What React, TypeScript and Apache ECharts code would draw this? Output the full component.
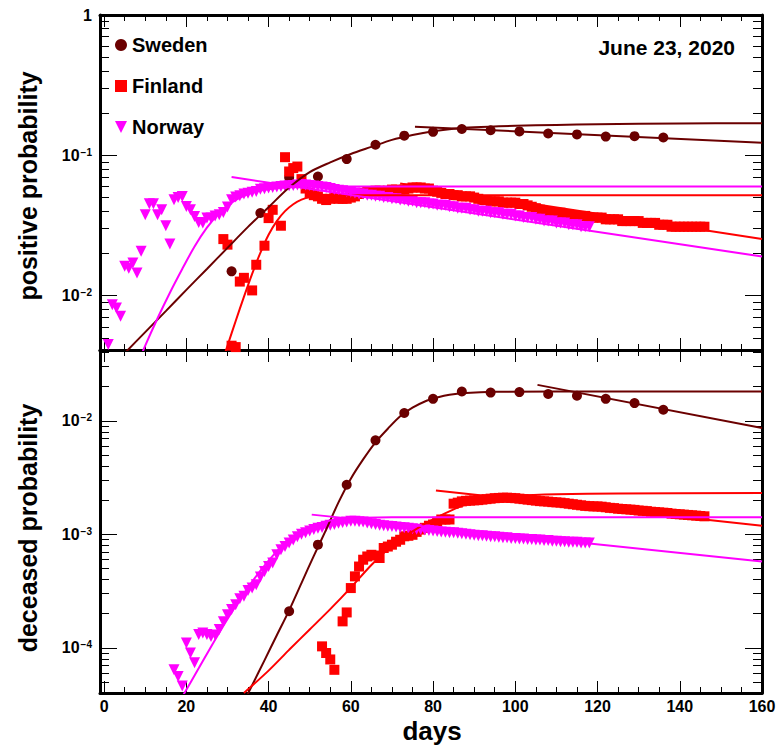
import { useEffect, useRef } from 'react';
import * as echarts from 'echarts';

const FONT = '"Liberation Sans", Arial, Helvetica, sans-serif';
const SWEDEN = '#6b0000';
const FINLAND = '#ff0000';
const NORWAY = '#ff00ff';

// axis ticks
const xMajorTicks = [0, 20, 40, 60, 80, 100, 120, 140, 160];
const xMinorTicks = [5, 10, 15, 25, 30, 35, 45, 50, 55, 65, 70, 75, 85, 90, 95, 105, 110, 115, 125, 130, 135, 145, 150, 155];
const posMajorTicks = [1, 0.1, 0.01];
const posMinorTicks = [0.005, 0.006, 0.007, 0.008, 0.009, 0.02, 0.03, 0.04, 0.05, 0.06, 0.07, 0.08, 0.09, 0.2, 0.3, 0.4, 0.5, 0.6, 0.7, 0.8, 0.9];
const decMajorTicks = [0.01, 0.001, 0.0001];
const decMinorTicks = [5e-5, 6e-5, 7e-5, 8e-5, 9e-5, 2e-4, 3e-4, 4e-4, 5e-4, 6e-4, 7e-4, 8e-4, 9e-4, 2e-3, 3e-3, 4e-3, 5e-3, 6e-3, 7e-3, 8e-3, 9e-3, 0.02, 0.03, 0.04];

// positive probability, [day, value]
const swedenPositive: [number, number][] = [
  [31, 0.0149], [38, 0.0388], [45, 0.0695], [52, 0.0707], [59, 0.094], [66, 0.119], [73, 0.138], [80, 0.147],
  [87, 0.154], [94, 0.151], [101, 0.148], [108, 0.143], [115, 0.141], [122, 0.136], [129, 0.137], [136, 0.134],
];
const finlandPositive: [number, number][] = [
  [29, 0.0253], [30, 0.0231], [31, 0.0044], [32, 0.0043], [33, 0.0126], [34, 0.0134], [36, 0.0109], [37, 0.0166],
  [39, 0.0227], [40, 0.0357], [41, 0.0409], [43, 0.0315], [44, 0.097], [45, 0.0767], [46, 0.0811], [47, 0.0832],
  [48, 0.0677], [49, 0.058], [50, 0.054], [51, 0.052], [52, 0.051], [53, 0.049], [54, 0.048], [55, 0.049],
  [56, 0.05], [57, 0.049], [58, 0.049], [59, 0.049], [60, 0.05], [61, 0.051], [62, 0.053], [63, 0.054],
  [64, 0.055], [65, 0.055], [66, 0.056], [67, 0.056], [68, 0.055], [69, 0.056], [70, 0.057], [71, 0.057],
  [72, 0.056], [73, 0.057], [74, 0.058], [75, 0.059], [76, 0.059], [77, 0.059], [78, 0.058], [79, 0.058],
  [80, 0.056], [81, 0.055], [82, 0.054], [83, 0.053], [84, 0.053], [85, 0.052], [86, 0.052], [87, 0.051],
  [88, 0.051], [89, 0.051], [90, 0.05], [91, 0.049], [92, 0.048], [93, 0.048], [94, 0.047], [95, 0.047],
  [96, 0.047], [97, 0.046], [98, 0.046], [99, 0.046], [100, 0.046], [101, 0.045], [102, 0.045], [103, 0.044],
  [104, 0.043], [105, 0.042], [106, 0.041], [107, 0.04], [108, 0.04], [109, 0.039], [110, 0.039], [111, 0.039],
  [112, 0.038], [113, 0.038], [114, 0.037], [115, 0.037], [116, 0.037], [117, 0.037], [118, 0.036], [119, 0.036],
  [120, 0.036], [121, 0.036], [122, 0.035], [123, 0.035], [124, 0.035], [125, 0.035], [126, 0.034], [127, 0.034],
  [128, 0.034], [129, 0.034], [130, 0.034], [131, 0.033], [132, 0.033], [133, 0.033], [134, 0.033], [135, 0.032],
  [136, 0.032], [137, 0.032], [138, 0.031], [139, 0.031], [140, 0.031], [141, 0.031], [142, 0.031], [143, 0.031],
  [144, 0.031], [145, 0.031], [146, 0.031],
];
const norwayPositive: [number, number][] = [
  [1, 0.00448], [2, 0.00863], [3, 0.00817], [4, 0.00713], [5, 0.0162], [6, 0.0157], [7, 0.0171], [8, 0.0145],
  [9, 0.0207], [10, 0.0377], [11, 0.0452], [12, 0.0452], [13, 0.0377], [14, 0.0409], [15, 0.0315], [16, 0.0233],
  [17, 0.0482], [18, 0.0501], [19, 0.0509], [20, 0.0432], [21, 0.0409], [22, 0.0367], [23, 0.0332], [24, 0.0329],
  [25, 0.0357], [26, 0.0357], [27, 0.037], [28, 0.0377], [29, 0.0392], [30, 0.0428], [31, 0.0482], [32, 0.0505],
  [33, 0.0515], [34, 0.053], [35, 0.0537], [36, 0.0545], [37, 0.0553], [38, 0.0574], [39, 0.0578], [40, 0.0584],
  [41, 0.059], [42, 0.0595], [43, 0.06], [44, 0.0605], [45, 0.0607], [46, 0.061], [47, 0.0615], [48, 0.062],
  [49, 0.0615], [50, 0.061], [51, 0.0605], [52, 0.06], [53, 0.0595], [54, 0.059], [55, 0.058], [56, 0.057],
  [57, 0.0565], [58, 0.056], [59, 0.055], [60, 0.0545], [61, 0.054], [62, 0.053], [63, 0.053], [64, 0.052],
  [65, 0.052], [66, 0.051], [67, 0.051], [68, 0.05], [69, 0.05], [70, 0.049], [71, 0.049], [72, 0.048],
  [73, 0.048], [74, 0.047], [75, 0.047], [76, 0.046], [77, 0.046], [78, 0.046], [79, 0.045], [80, 0.045],
  [81, 0.044], [82, 0.044], [83, 0.044], [84, 0.043], [85, 0.043], [86, 0.042], [87, 0.042], [88, 0.042],
  [89, 0.041], [90, 0.041], [91, 0.04], [92, 0.04], [93, 0.04], [94, 0.039], [95, 0.039], [96, 0.039],
  [97, 0.038], [98, 0.038], [99, 0.038], [100, 0.037], [101, 0.037], [102, 0.036], [103, 0.036], [104, 0.036],
  [105, 0.035], [106, 0.035], [107, 0.034], [108, 0.034], [109, 0.034], [110, 0.033], [111, 0.033], [112, 0.033],
  [113, 0.032], [114, 0.032], [115, 0.032], [116, 0.031], [117, 0.031], [118, 0.031],
];

// deceased probability, [day, value]
const swedenDeceased: [number, number][] = [
  [45, 2.1e-4], [52, 8.1e-4], [59, 2.73e-3], [66, 6.72e-3], [73, 0.0117], [80, 0.0156], [87, 0.0181],
  [94, 0.0177], [101, 0.0179], [108, 0.0172], [115, 0.0166], [122, 0.0156], [129, 0.0143], [136, 0.0125],
];
const finlandDeceased: [number, number][] = [
  [53, 1.03e-4], [54, 9.0e-5], [55, 7.9e-5], [56, 6.4e-5], [58, 1.71e-4], [59, 2.05e-4], [60, 3.36e-4], [61, 4.26e-4],
  [62, 5.2e-4], [63, 5.97e-4], [64, 6.38e-4], [65, 6.6e-4], [66, 6.5e-4], [67, 6.18e-4], [68, 7.57e-4], [69, 7.8e-4],
  [70, 8.1e-4], [71, 8.6e-4], [72, 8.95e-4], [73, 9.6e-4], [74, 9.7e-4], [75, 9.9e-4], [76, 1.05e-3], [77, 1.1e-3],
  [78, 1.14e-3], [79, 1.19e-3], [80, 1.22e-3], [81, 1.29e-3], [82, 1.35e-3], [83, 1.35e-3], [84, 1.35e-3], [85, 1.86e-3],
  [86, 1.9e-3], [87, 1.95e-3], [88, 1.97e-3], [89, 1.98e-3], [90, 1.99e-3], [91, 2.0e-3], [92, 2.02e-3], [93, 2.04e-3],
  [94, 2.06e-3], [95, 2.08e-3], [96, 2.09e-3], [97, 2.1e-3], [98, 2.1e-3], [99, 2.09e-3], [100, 2.08e-3], [101, 2.06e-3],
  [102, 2.04e-3], [103, 2.02e-3], [104, 2.0e-3], [105, 1.98e-3], [106, 1.96e-3], [107, 1.95e-3], [108, 1.94e-3], [109, 1.92e-3],
  [110, 1.91e-3], [111, 1.9e-3], [112, 1.88e-3], [113, 1.86e-3], [114, 1.84e-3], [115, 1.82e-3], [116, 1.8e-3], [117, 1.78e-3],
  [118, 1.77e-3], [119, 1.76e-3], [120, 1.76e-3], [121, 1.75e-3], [122, 1.73e-3], [123, 1.71e-3], [124, 1.7e-3], [125, 1.68e-3],
  [126, 1.67e-3], [127, 1.66e-3], [128, 1.65e-3], [129, 1.64e-3], [130, 1.62e-3], [131, 1.61e-3], [132, 1.6e-3], [133, 1.58e-3],
  [134, 1.57e-3], [135, 1.56e-3], [136, 1.55e-3], [137, 1.54e-3], [138, 1.52e-3], [139, 1.51e-3], [140, 1.5e-3], [141, 1.49e-3],
  [142, 1.48e-3], [143, 1.47e-3], [144, 1.46e-3], [145, 1.45e-3], [146, 1.44e-3],
];
const norwayDeceased: [number, number][] = [
  [17, 6.4e-5], [18, 5.6e-5], [19, 4.6e-5], [20, 1.1e-4], [21, 9.0e-5], [22, 7.4e-5], [23, 1.31e-4], [24, 1.35e-4],
  [25, 1.31e-4], [26, 1.26e-4], [27, 1.3e-4], [28, 1.45e-4], [29, 1.7e-4], [30, 1.96e-4], [31, 2.17e-4], [32, 2.4e-4],
  [33, 2.7e-4], [34, 2.84e-4], [35, 3.2e-4], [36, 3.36e-4], [37, 3.6e-4], [38, 4.2e-4], [39, 4.7e-4], [40, 5.2e-4],
  [41, 5.6e-4], [42, 6.6e-4], [43, 7.3e-4], [44, 7.8e-4], [45, 8.4e-4], [46, 8.9e-4], [47, 9.5e-4], [48, 1.0e-3],
  [49, 1.03e-3], [50, 1.07e-3], [51, 1.1e-3], [52, 1.13e-3], [53, 1.15e-3], [54, 1.18e-3], [55, 1.2e-3], [56, 1.22e-3],
  [57, 1.25e-3], [58, 1.27e-3], [59, 1.28e-3], [60, 1.3e-3], [61, 1.3e-3], [62, 1.29e-3], [63, 1.28e-3], [64, 1.26e-3],
  [65, 1.24e-3], [66, 1.22e-3], [67, 1.2e-3], [68, 1.19e-3], [69, 1.18e-3], [70, 1.17e-3], [71, 1.16e-3], [72, 1.15e-3],
  [73, 1.14e-3], [74, 1.13e-3], [75, 1.12e-3], [76, 1.11e-3], [77, 1.1e-3], [78, 1.09e-3], [79, 1.08e-3], [80, 1.07e-3],
  [81, 1.06e-3], [82, 1.05e-3], [83, 1.04e-3], [84, 1.03e-3], [85, 1.03e-3], [86, 1.02e-3], [87, 1.01e-3], [88, 1.0e-3],
  [89, 9.9e-4], [90, 9.8e-4], [91, 9.7e-4], [92, 9.7e-4], [93, 9.6e-4], [94, 9.5e-4], [95, 9.5e-4], [96, 9.4e-4],
  [97, 9.3e-4], [98, 9.3e-4], [99, 9.2e-4], [100, 9.2e-4], [101, 9.1e-4], [102, 9.1e-4], [103, 9.0e-4], [104, 9.0e-4],
  [105, 8.9e-4], [106, 8.9e-4], [107, 8.8e-4], [108, 8.8e-4], [109, 8.7e-4], [110, 8.7e-4], [111, 8.6e-4], [112, 8.6e-4],
  [113, 8.5e-4], [114, 8.5e-4], [115, 8.5e-4], [116, 8.4e-4], [117, 8.4e-4], [118, 8.4e-4],
];

// fitted curves, [day, value]
const swedenPositiveFit: [number, number][] = [
  [0, 0.00275], [5, 0.00389], [10, 0.0055], [15, 0.00776], [20, 0.011], [25, 0.0155], [30, 0.0219], [35, 0.0309],
  [40, 0.0427], [45, 0.0589], [50, 0.0759], [55, 0.0891], [60, 0.1023], [65, 0.1148], [70, 0.1288], [75, 0.1396],
  [80, 0.1486], [85, 0.1549], [90, 0.1585], [100, 0.1622], [110, 0.1648], [120, 0.1667], [140, 0.1687], [160, 0.1694],
];
const swedenPositiveDecline: [number, number][] = [[75.6, 0.16], [160, 0.123]];
const finlandPositiveFit: [number, number][] = [
  [28, 0.0029], [30, 0.0044], [32, 0.0066], [34, 0.0098], [36, 0.0143], [38, 0.0202], [40, 0.0272], [42, 0.034],
  [44, 0.04], [46, 0.0448], [48, 0.0483], [50, 0.0502], [55, 0.0516], [60, 0.052], [160, 0.052],
];
const finlandPositiveDecline: [number, number][] = [[72, 0.063], [160, 0.0253]];
const norwayPositiveFit: [number, number][] = [
  [7, 0.0027], [10, 0.0044], [13, 0.0069], [16, 0.0105], [19, 0.0155], [22, 0.0224], [25, 0.0305], [28, 0.0388],
  [31, 0.046], [34, 0.0515], [37, 0.0553], [40, 0.0574], [45, 0.0592], [50, 0.0598], [60, 0.06], [160, 0.06],
];
const norwayPositiveDecline: [number, number][] = [[31, 0.07], [160, 0.019]];

const swedenDeceasedFit: [number, number][] = [
  [33, 2.82e-5], [36, 4.68e-5], [39, 7.76e-5], [42, 1.29e-4], [45, 2.14e-4], [48, 3.72e-4], [51, 6.46e-4], [54, 1.1e-3],
  [57, 1.91e-3], [60, 3.09e-3], [63, 4.57e-3], [66, 6.46e-3], [69, 8.51e-3], [72, 0.01096], [75, 0.01303], [78, 0.01479],
  [81, 0.01603], [84, 0.01698], [88, 0.01758], [95, 0.01799], [110, 0.01811], [160, 0.01811],
];
const swedenDeceasedDecline: [number, number][] = [[105.4, 0.0207], [160, 0.00863]];
const finlandDeceasedFit: [number, number][] = [
  [34, 4.0e-5], [40, 6.3e-5], [45, 9.6e-5], [50, 1.45e-4], [55, 2.19e-4], [60, 3.39e-4], [65, 5.37e-4], [70, 7.94e-4],
  [75, 1.06e-3], [80, 1.35e-3], [85, 1.66e-3], [90, 1.93e-3], [95, 2.09e-3], [100, 2.18e-3], [110, 2.25e-3],
  [125, 2.29e-3], [160, 2.31e-3],
];
const finlandDeceasedDecline: [number, number][] = [[80.7, 2.43e-3], [160, 1.19e-3]];
const norwayDeceasedFit: [number, number][] = [
  [19, 3.7e-5], [23, 6.6e-5], [27, 1.18e-4], [31, 2.05e-4], [35, 3.4e-4], [39, 5.3e-4], [43, 7.7e-4], [47, 1.0e-3],
  [51, 1.2e-3], [55, 1.32e-3], [59, 1.38e-3], [63, 1.4e-3], [70, 1.41e-3], [160, 1.41e-3],
];
const norwayDeceasedDecline: [number, number][] = [[50.5, 1.49e-3], [160, 5.77e-4]];

const powLabel = (v: number) => {
  const e = Math.round(Math.log10(v));
  return e === 0 ? '{b|1}' : `{b|10}{s|\u2212${-e}}`;
};

const labelRich = {
  b: { fontSize: 16, fontWeight: 'bold', fontFamily: FONT, color: '#000', lineHeight: 16, verticalAlign: 'bottom' },
  s: { fontSize: 10, fontWeight: 'bold', fontFamily: FONT, color: '#000', lineHeight: 10, verticalAlign: 'top', padding: [0, 0, 9, 1] },
};

const frameLine = { onZero: false, lineStyle: { color: '#000', width: 3 } };

function makeXAxes(gridIndex: number, labels: boolean) {
  const base = { type: 'value', gridIndex, min: -1, max: 160, splitLine: { show: false } };
  const major = (position: string, label: boolean) => ({
    ...base,
    position,
    axisLine: frameLine,
    axisTick: { inside: true, length: 12, customValues: xMajorTicks, lineStyle: { color: '#000', width: 1 } },
    axisLabel: {
      show: label,
      customValues: xMajorTicks,
      margin: 5,
      fontSize: 16,
      fontWeight: 'bold',
      fontFamily: FONT,
      color: '#000',
    },
  });
  const minor = (position: string) => ({
    ...base,
    position,
    axisLine: { show: false, onZero: false },
    axisTick: { inside: true, length: 6, customValues: xMinorTicks, lineStyle: { color: '#000', width: 1 } },
    axisLabel: { show: false },
  });
  return [major('bottom', labels), minor('bottom'), major('top', false), minor('top')];
}

function makeYAxes(gridIndex: number, min: number, max: number, majors: number[], minors: number[]) {
  const base = { type: 'log', logBase: 10, gridIndex, min, max, splitLine: { show: false }, minorTick: { show: false } };
  const major = (position: string, label: boolean) => ({
    ...base,
    position,
    axisLine: frameLine,
    axisTick: { inside: true, length: 17, customValues: majors, lineStyle: { color: '#000', width: 1 } },
    axisLabel: { show: label, customValues: majors, margin: 8, formatter: powLabel, rich: labelRich },
  });
  const minor = (position: string) => ({
    ...base,
    position,
    axisLine: { show: false, onZero: false },
    axisTick: { inside: true, length: 9, customValues: minors, lineStyle: { color: '#000', width: 1 } },
    axisLabel: { show: false },
  });
  return [major('left', true), minor('left'), major('right', false), minor('right')];
}

const triangleDown = 'path://M0,0L10,0L5,10Z';

function markers(name: string, data: [number, number][], axis: number, color: string, symbol: string, size: number) {
  return {
    name,
    type: 'scatter',
    xAxisIndex: axis,
    yAxisIndex: axis,
    data,
    symbol,
    symbolSize: size,
    itemStyle: { color, opacity: 1 },
    z: 2,
    silent: true,
  };
}

function fit(data: [number, number][], axis: number, color: string, smooth: boolean) {
  return {
    name: 'fit',
    type: 'line',
    xAxisIndex: axis,
    yAxisIndex: axis,
    data,
    smooth: smooth ? 0.3 : false,
    showSymbol: false,
    symbol: 'none',
    lineStyle: { color, width: 2 },
    itemStyle: { color },
    z: 3,
    silent: true,
  };
}

export default function App() {
  const chartRef = useRef<HTMLDivElement>(null);

  useEffect(() => {
    if (!chartRef.current) return;
    const chart = echarts.init(chartRef.current, undefined, { renderer: 'svg' });

    const option = {
      animation: false,
      backgroundColor: '#fff',
      grid: [
        { left: 100, top: 15, width: 662, height: 335, outerBoundsMode: 'none' },
        { left: 100, top: 350, width: 662, height: 343, outerBoundsMode: 'none' },
      ],
      xAxis: [...makeXAxes(0, false), ...makeXAxes(1, true)],
      yAxis: [
        ...makeYAxes(0, 0.0041, 1, posMajorTicks, posMinorTicks),
        ...makeYAxes(1, 4.0e-5, 0.042, decMajorTicks, decMinorTicks),
      ],
      legend: {
        orient: 'vertical',
        left: 110,
        top: 30,
        itemGap: 21,
        itemWidth: 12,
        itemHeight: 12,
        selectedMode: false,
        data: [
          { name: 'Sweden', icon: 'circle' },
          { name: 'Finland', icon: 'rect' },
          { name: 'Norway', icon: triangleDown },
        ],
        textStyle: { fontSize: 20, fontWeight: 'bold', fontFamily: FONT, color: '#000' },
      },
      graphic: [
        {
          type: 'text',
          x: 28,
          y: 186,
          rotation: Math.PI / 2,
          style: { text: 'positive probability', font: `bold 25px ${FONT}`, fill: '#000', align: 'center', verticalAlign: 'middle' },
        },
        {
          type: 'text',
          x: 28,
          y: 528,
          rotation: Math.PI / 2,
          style: { text: 'deceased probability', font: `bold 25px ${FONT}`, fill: '#000', align: 'center', verticalAlign: 'middle' },
        },
        {
          type: 'text',
          x: 432,
          y: 731,
          style: { text: 'days', font: `bold 26px ${FONT}`, fill: '#000', align: 'center', verticalAlign: 'middle' },
        },
        {
          type: 'text',
          x: 735,
          y: 47,
          style: { text: 'June 23, 2020', font: `bold 21px ${FONT}`, fill: '#000', align: 'right', verticalAlign: 'middle' },
        },
      ],
      series: [
        markers('Sweden', swedenPositive, 0, SWEDEN, 'circle', 10),
        markers('Finland', finlandPositive, 0, FINLAND, 'rect', 10),
        markers('Norway', norwayPositive, 0, NORWAY, triangleDown, 11),
        markers('Sweden', swedenDeceased, 4, SWEDEN, 'circle', 10),
        markers('Finland', finlandDeceased, 4, FINLAND, 'rect', 10),
        markers('Norway', norwayDeceased, 4, NORWAY, triangleDown, 11),
        fit(swedenPositiveFit, 0, SWEDEN, true),
        fit(swedenPositiveDecline, 0, SWEDEN, false),
        fit(finlandPositiveFit, 0, FINLAND, true),
        fit(finlandPositiveDecline, 0, FINLAND, false),
        fit(norwayPositiveFit, 0, NORWAY, true),
        fit(norwayPositiveDecline, 0, NORWAY, false),
        fit(swedenDeceasedFit, 4, SWEDEN, true),
        fit(swedenDeceasedDecline, 4, SWEDEN, false),
        fit(finlandDeceasedFit, 4, FINLAND, true),
        fit(finlandDeceasedDecline, 4, FINLAND, false),
        fit(norwayDeceasedFit, 4, NORWAY, true),
        fit(norwayDeceasedDecline, 4, NORWAY, false),
      ],
    };

    chart.setOption(option as echarts.EChartsOption);

    return () => {
      chart.dispose();
    };
  }, []);

  return (
    <div
      ref={chartRef}
      style={{ position: 'absolute', left: 0, top: 0, width: '777px', height: '746px' }}
    />
  );
}
